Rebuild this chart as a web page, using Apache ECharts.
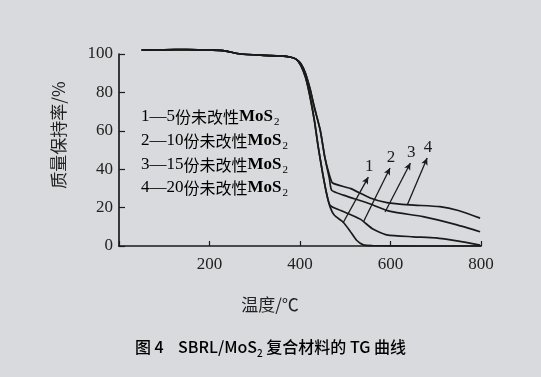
<!DOCTYPE html>
<html><head><meta charset="utf-8">
<script src="https://cdn.jsdelivr.net/npm/echarts@6/dist/echarts.min.js"></script>
<style>html,body{margin:0;padding:0;background:#d9dadd;}#c{width:541px;height:377px;}</style>
</head><body><div id="c"></div>
<script>
// ---- data ----
var xTicks = [0, 200, 400, 600, 800];
var yTicks = [0, 20, 40, 60, 80, 100];
var plateauT = [50, 100, 150, 200, 230, 268, 320, 356, 380, 392];
var plateauV = [102, 102.2, 102.3, 102, 101.8, 100, 99.3, 99, 98.3, 97.2];
var curve1T = [402, 412, 422, 432, 440, 450, 460, 467, 476, 495, 510, 525, 540, 560, 650, 800];
var curve1V = [94, 88, 78, 65, 52, 38, 26, 20, 16, 12.5, 8, 3, 0.6, 0.2, 0, 0];
var curve2T = [402, 412, 422, 432, 440, 450, 460, 467, 490, 533, 560, 592, 650, 700, 750, 798];
var curve2V = [94, 88, 78, 65, 52, 38, 26, 21, 18.5, 14, 9, 5.8, 4.8, 4.2, 2.5, 0.5];
var curve3T = [402, 412, 422, 432, 445, 455, 465, 470, 496, 548, 600, 672, 747, 798];
var curve3V = [95, 90, 82, 72, 60, 46, 35, 29, 26.5, 22.5, 18, 15.3, 11, 7.4];
var curve4T = [402, 412, 422, 432, 445, 455, 465, 472, 511, 555, 592, 643, 709, 750, 798];
var curve4V = [95, 90, 82, 72, 60, 46, 37, 32.8, 30, 25, 22.6, 21.4, 20.5, 18.5, 14.5];
var curveNames = ['1', '2', '3', '4'];
var legendLines = [
  {num: '1', amt: '5'},
  {num: '2', amt: '10'},
  {num: '3', amt: '15'},
  {num: '4', amt: '20'}
];
// annotation arrows: [T, V] start (on curve) and end (at label)
var arrowFrom = [[495, 12], [540, 12.5], [588, 17.7], [637, 21.4]];
var arrowTo = [[551, 35.9], [599, 40.6], [644, 43.2], [681, 45.8]];
var yName = '质量保持率/%';
var xName = '温度/℃';

function build(T, V) {
  var out = [];
  for (var i = 0; i < plateauT.length; i++) out.push([plateauT[i], plateauV[i]]);
  for (var j = 0; j < T.length; j++) out.push([T[j], V[j]]);
  return out;
}
var curves = [[curve1T, curve1V], [curve2T, curve2V], [curve3T, curve3V], [curve4T, curve4V]];
var serif = 'Liberation Serif';
var series = curves.map(function (c, k) {
  return {
    type: 'line', name: curveNames[k], data: build(c[0], c[1]),
    smooth: 0.2, showSymbol: false, silent: true, clip: false,
    lineStyle: {color: '#1a1a1a', width: 1.7},
    markLine: {
      silent: true, symbol: ['none', 'arrow'], symbolSize: [5, 7],
      lineStyle: {color: '#1a1a1a', width: 1.3, type: 'solid'},
      label: {show: true, position: 'end', formatter: curveNames[k], color: '#1a1a1a',
              fontFamily: serif, fontSize: 17, distance: 2},
      data: [[{coord: arrowFrom[k]}, {coord: arrowTo[k]}]]
    }
  };
});

var rich = {
  n: {fontFamily: serif, fontSize: 17, color: '#222', lineHeight: 22},
  c: {fontFamily: 'Noto Sans CJK SC', fontSize: 16, color: '#222', lineHeight: 22},
  m: {fontFamily: serif, fontSize: 17, fontWeight: 'bold', color: '#222', lineHeight: 22},
  s: {fontFamily: serif, fontSize: 11, color: '#222', lineHeight: 22, verticalAlign: 'bottom', padding: [10, 0, 0, 1]}
};
var legendY = [118, 142, 166, 189];
var graphics = legendLines.map(function (l, i) {
  return {
    type: 'text', left: 141, top: legendY[i] - 11,
    style: {
      text: '{n|' + l.num + '—' + l.amt + '}{c|份未改性}{m|MoS}{s|2}',
      rich: rich
    }
  };
});
var capColor = '#d2663d';
graphics.push({
  type: 'text', left: 'center', top: 339,
  style: {
    text: '{a|图 4}{b|    SBRL/MoS}{sub|2}{b| 复合材料的 TG 曲线}',
    rich: {
      a: {fontFamily: 'Noto Sans CJK SC', fontSize: 16, fontWeight: 500, color: capColor, lineHeight: 22},
      b: {fontFamily: 'Noto Sans CJK SC', fontSize: 16, fontWeight: 500, color: capColor, lineHeight: 22},
      sub: {fontFamily: 'Noto Sans CJK SC', fontSize: 10, fontWeight: 500, color: capColor, lineHeight: 22, verticalAlign: 'bottom', padding: [8, 0, 0, 0]}
    }
  }
});

var chart = echarts.init(document.getElementById('c'));
chart.setOption({
  backgroundColor: '#d9dadd',
  animation: false,
  grid: {left: 119, right: 60, top: 54, bottom: 131},
  xAxis: {
    type: 'value', min: xTicks[0], max: xTicks[xTicks.length - 1], interval: 200,
    name: xName, nameLocation: 'middle', nameGap: 50,
    nameTextStyle: {fontFamily: 'Noto Sans CJK SC', fontSize: 17, color: '#222', padding: [0, 60, 0, 0]},
    axisLine: {lineStyle: {color: '#1a1a1a', width: 1.7}},
    axisTick: {inside: true, length: 5, lineStyle: {color: '#1a1a1a', width: 1.2}},
    axisLabel: {fontFamily: serif, fontSize: 17, color: '#222', margin: 10,
      formatter: function (v) { return v === 0 ? '' : String(v); }},
    splitLine: {show: false}
  },
  yAxis: {
    type: 'value', min: yTicks[0], max: yTicks[yTicks.length - 1], interval: 20,
    name: yName, nameLocation: 'middle', nameGap: 52, nameRotate: 90,
    nameTextStyle: {fontFamily: 'Noto Sans CJK SC', fontSize: 17, color: '#222', padding: [0, 0, 0, 30]},
    axisLine: {show: true, lineStyle: {color: '#1a1a1a', width: 1.7}},
    axisTick: {show: true, inside: true, length: 6, lineStyle: {color: '#1a1a1a', width: 1.2}},
    axisLabel: {fontFamily: serif, fontSize: 17, color: '#222', margin: 6},
    splitLine: {show: false}
  },
  series: series,
  graphic: graphics
});
</script>
</body></html>
